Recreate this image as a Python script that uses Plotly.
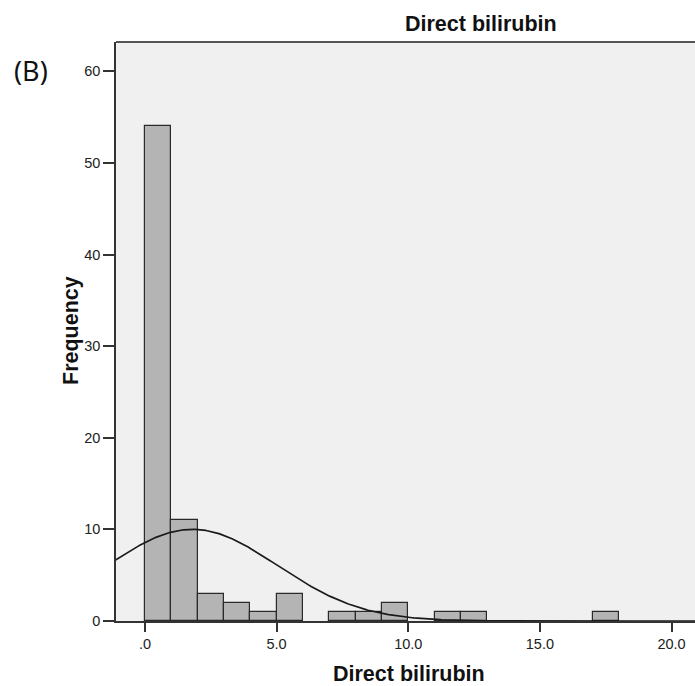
import plotly.graph_objects as go
import numpy as np

# ---- data ----
bin_left = [0, 1, 2, 3, 4, 5, 6, 7, 8, 9, 10, 11, 12, 13, 14, 15, 16, 17]
counts   = [54, 11, 3, 2, 1, 3, 0, 1, 1, 2, 0, 1, 1, 0, 0, 0, 0, 1]
bin_width = 1.0
fit_mean = 1.8      # normal curve parameters
fit_sd = 3.23
x_tick_vals = [0, 5, 10, 15, 20]
x_tick_text = [".0", "5.0", "10.0", "15.0", "20.0"]
y_tick_vals = [0, 10, 20, 30, 40, 50, 60]

W, H = 695, 686
L, R, T, B = 116, 0, 42, 65
PW, PH = W - L - R, H - T - B

def px(x):
    return (x - L) / PW

def py(y):
    return 1 - (y - T) / PH

n_total = sum(counts)
xc = [b + bin_width / 2 for b in bin_left]
bx = [x for x, c in zip(xc, counts) if c > 0]
by = [c for c in counts if c > 0]

xs = np.linspace(-1.2, 21, 400)
ys = n_total * bin_width / (fit_sd * np.sqrt(2 * np.pi)) * np.exp(-0.5 * ((xs - fit_mean) / fit_sd) ** 2)

fig = go.Figure()
fig.add_trace(go.Bar(
    x=bx, y=by, width=bin_width,
    marker=dict(color="#b4b4b4", line=dict(color="#2a2a2a", width=1.2)),
    showlegend=False, hoverinfo="skip",
))
fig.add_trace(go.Scatter(
    x=xs, y=ys, mode="lines",
    line=dict(color="#1a1a1a", width=1.7),
    showlegend=False, hoverinfo="skip",
))

title_font = dict(size=21.5, color="#111", family="Liberation Sans, Arial, sans-serif")

fig.update_layout(
    width=W, height=H,
    margin=dict(l=L, r=R, t=T, b=B),
    paper_bgcolor="white",
    plot_bgcolor="#f0f0f0",
    bargap=0,
    font=dict(family="Liberation Sans, Arial, sans-serif", color="#222"),
    xaxis=dict(
        range=[-1.1, -1.1 + PW / 26.33],
        tickvals=x_tick_vals, ticktext=x_tick_text,
        ticks="outside", ticklen=9, tickwidth=1.5, tickcolor="#333",
        showline=True, linecolor="#333", linewidth=1.5,
        showgrid=False, zeroline=False,
        tickfont=dict(size=14.5, color="#222"),
    ),
    yaxis=dict(
        range=[0, 63.2],
        tickvals=y_tick_vals,
        ticks="outside", ticklen=11, tickwidth=1.5, tickcolor="#333",
        showline=True, linecolor="#333", linewidth=1.5,
        showgrid=False, zeroline=False,
        tickfont=dict(size=14.5, color="#222"),
    ),
    shapes=[dict(type="line", xref="paper", yref="paper", x0=0, x1=1, y0=1, y1=1,
                 line=dict(color="#555", width=2))],
    annotations=[
        dict(text="<b>Direct bilirubin</b>", xref="paper", yref="paper",
             x=px(481), y=py(24), xanchor="center", yanchor="middle",
             showarrow=False, font=title_font),
        dict(text="<b>Direct bilirubin</b>", xref="paper", yref="paper",
             x=px(409), y=py(674), xanchor="center", yanchor="middle",
             showarrow=False, font=title_font),
        dict(text="<b>Frequency</b>", xref="paper", yref="paper", textangle=-90,
             x=px(71), y=py(331), xanchor="center", yanchor="middle",
             showarrow=False, font=title_font),
        dict(text="(B)", xref="paper", yref="paper",
             x=px(30.5), y=py(70), xanchor="center", yanchor="middle", showarrow=False,
             font=dict(size=27, color="#111", family="Noto Sans, Open Sans, sans-serif")),
    ],
)

fig.write_html("out.html")
